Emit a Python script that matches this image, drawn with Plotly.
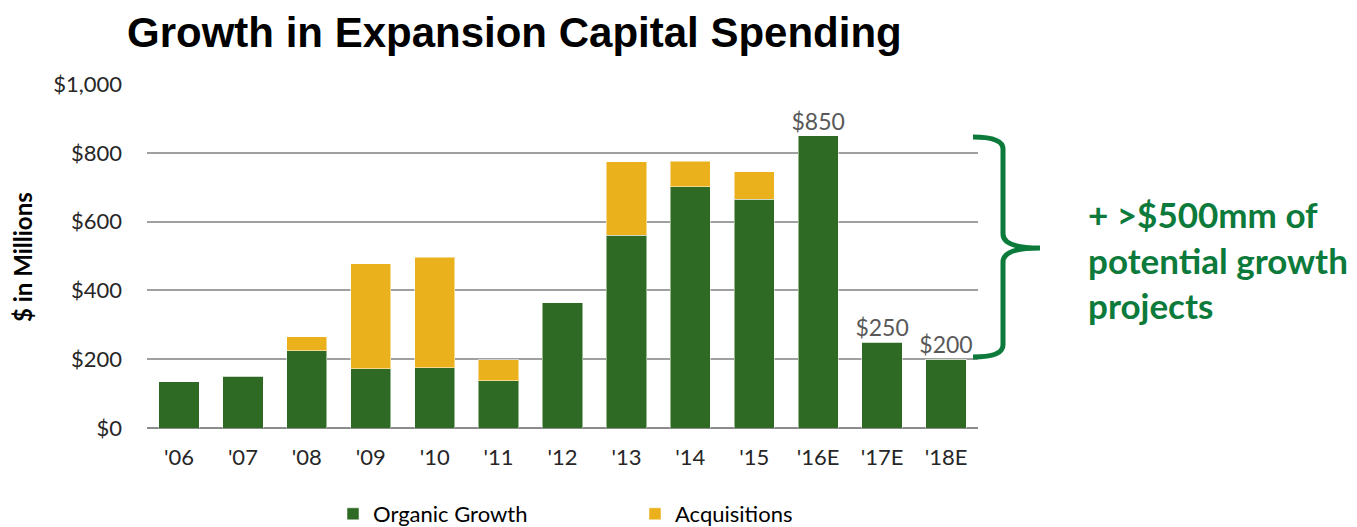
import plotly.graph_objects as go

categories = ["'06", "'07", "'08", "'09", "'10", "'11", "'12", "'13", "'14", "'15", "'16E", "'17E", "'18E"]
organic = [135, 150, 224, 172, 175, 138, 364, 560, 701, 665, 850, 250, 200]
acquisitions = [0, 0, 41, 306, 321, 60, 0, 214, 75, 80, 0, 0, 0]
value_labels = ["", "", "", "", "", "", "", "", "", "", "$850", "$250", "$200"]
y_ticks = [0, 200, 400, 600, 800, 1000]
y_tick_text = ["$0", "$200", "$400", "$600", "$800", "$1,000"]

GREEN = "#2E6A23"
GOLD = "#EAB11C"
BRACE = "#0B7A3B"
FONT = "Lato, 'Open Sans', sans-serif"

# page body has an 8px margin; compensate so the figure lines up with the window
OFF = 8
W, H = 1357 - OFF, 527 - OFF
L, R, T, B = 147 - OFF, 379, 84 - OFF, 99
PW, PH = W - L - R, H - T - B

def px(x):
    return (x - OFF - L) / PW

def py(y):
    return (H - B - (y - OFF)) / PH

totals = [o + a for o, a in zip(organic, acquisitions)]

fig = go.Figure()
fig.add_trace(go.Bar(x=categories, y=organic, name="Organic Growth",
                     marker=dict(color=GREEN, line=dict(color="rgba(255,255,255,0.5)", width=1))))
fig.add_trace(go.Bar(x=categories, y=acquisitions, name="Acquisitions",
                     marker=dict(color=GOLD, line=dict(color="rgba(255,255,255,0.5)", width=1))))
fig.add_trace(go.Scatter(x=categories, y=totals, mode="text", text=value_labels,
                         textposition="top center", showlegend=False, hoverinfo="skip",
                         textfont=dict(family=FONT, size=23, color="#595959")))

# curly brace
x0, x1, xm, y_top, y_mid, y_bot = 973, 1003, 1040, 137, 248, 357
path = (f"M {px(x0)} {py(y_top)} "
        f"Q {px(x1)} {py(y_top)} {px(x1)} {py(y_top+12)} "
        f"L {px(x1)} {py(y_mid-14)} "
        f"Q {px(x1)} {py(y_mid)} {px(xm)} {py(y_mid)} "
        f"Q {px(x1)} {py(y_mid)} {px(x1)} {py(y_mid+14)} "
        f"L {px(x1)} {py(y_bot-12)} "
        f"Q {px(x1)} {py(y_bot)} {px(x0)} {py(y_bot)}")
fig.add_shape(type="path", xref="paper", yref="paper", path=path,
              line=dict(color=BRACE, width=5))

fig.add_annotation(xref="paper", yref="paper", x=px(1086), y=py(259), xanchor="left", yanchor="middle",
                   text="+ >$500mm of<br>potential growth<br>projects", showarrow=False, align="left",
                   font=dict(family=FONT, size=35, color=BRACE, weight="bold"))

fig.add_annotation(xref="paper", yref="paper", x=px(514), y=py(33), xanchor="center", yanchor="middle",
                   text="<b>Growth in Expansion Capital Spending</b>", showarrow=False,
                   font=dict(family="Arial, 'Liberation Sans', sans-serif", size=42, color="#000000"))

fig.add_annotation(xref="paper", yref="paper", x=px(22), y=py(257), xanchor="center", yanchor="middle",
                   text="<b>$ in Millions</b>", showarrow=False, textangle=-90,
                   font=dict(family=FONT, size=24, color="#000000"))

fig.update_layout(
    width=W, height=H,
    margin=dict(l=L, r=R, t=T, b=B, autoexpand=False),
    barmode="stack", bargap=0.37,
    plot_bgcolor="white", paper_bgcolor="white",
    font=dict(family=FONT, size=22, color="#262626"),
    legend=dict(orientation="h", x=px(333), y=py(493), xanchor="left", yanchor="top",
                font=dict(size=22, color="#000000"), entrywidth=257, entrywidthmode="pixels",
                traceorder="normal"),
    xaxis=dict(range=[-0.5, len(categories) - 0.5], showgrid=False, showline=False, ticks="",
               ticklabelstandoff=14, automargin=False,
               tickfont=dict(size=22, color="#262626")),
    yaxis=dict(range=[0, 1000], tickvals=y_ticks, ticktext=y_tick_text, automargin=False,
               showgrid=True, gridcolor="#A0A0A0", gridwidth=1.5,
               zeroline=True, zerolinecolor="#8C8C8C", zerolinewidth=2,
               showline=False, ticks="", ticklabelstandoff=24,
               tickfont=dict(size=22, color="#262626")),
)

fig.write_html("out.html")
